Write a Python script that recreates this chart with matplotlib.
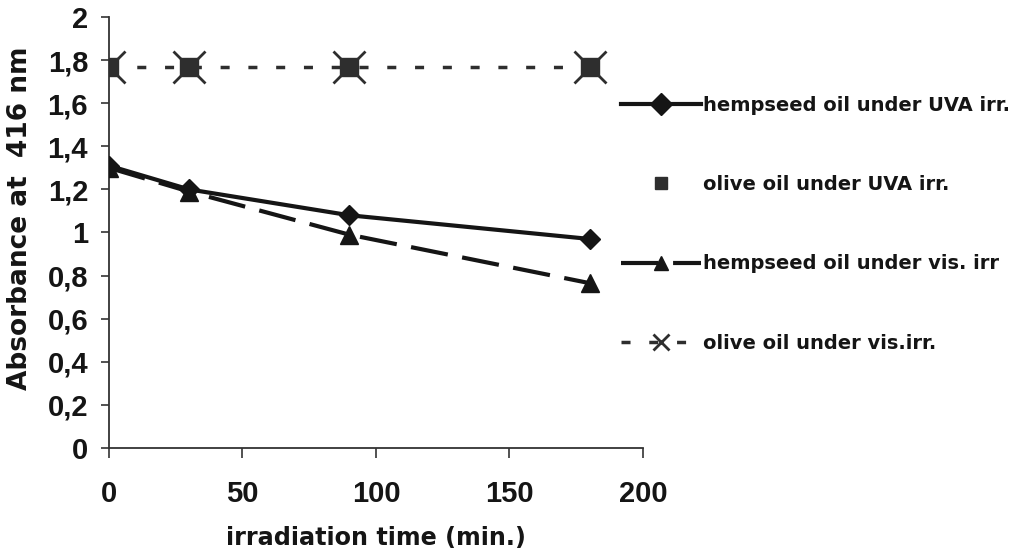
import matplotlib

matplotlib.use("Agg")

import matplotlib.pyplot as plt
from matplotlib.ticker import FuncFormatter

plt.rcParams["font.family"] = ["Liberation Sans", "DejaVu Sans"]
plt.rcParams["font.weight"] = "bold"

# irradiation time (min.)
TIME = [0, 30, 90, 180]

HEMP_UVA = [1.31, 1.20, 1.08, 0.97]
OLIVE_UVA = [1.77, 1.77, 1.77, 1.77]
HEMP_VIS = [1.30, 1.19, 0.99, 0.765]
OLIVE_VIS = [1.77, 1.77, 1.77, 1.77]

LABELS = [
    "hempseed oil under UVA irr.",
    "olive oil under UVA irr.",
    "hempseed oil under vis. irr",
    "olive oil under vis.irr.",
]

X_TICKS = [0, 50, 100, 150, 200]
Y_TICKS = [0, 0.2, 0.4, 0.6, 0.8, 1.0, 1.2, 1.4, 1.6, 1.8, 2.0]

INK = "#151515"
DARK = "#2e2e2e"
WIDE = ["DejaVu Sans"]

fig = plt.figure(figsize=(10.18, 5.57), dpi=100, facecolor="white")
ax = fig.add_axes([0.107, 0.1957, 0.5246, 0.7738])

l1, = ax.plot(TIME, HEMP_UVA, color=INK, lw=3.0, marker="D", ms=10,
              mfc=INK, mec=INK, zorder=4, label=LABELS[0])
l3, = ax.plot(TIME, HEMP_VIS, color=INK, lw=3.0, dashes=(9, 3.5),
              marker="^", ms=13, mfc=INK, mec=INK, zorder=3, label=LABELS[2])
l4, = ax.plot(TIME, OLIVE_VIS, color=DARK, lw=2.5, dashes=(2.6, 5.4),
              marker="x", ms=23, mew=2.0, mec=DARK, zorder=3, label=LABELS[3])
l2, = ax.plot(TIME, OLIVE_UVA, ls="none", marker="s", ms=13,
              mfc=DARK, mec=DARK, zorder=5, label=LABELS[1])

ax.set_xlim(0, 200)
ax.set_ylim(0, 2)
ax.set_xticks(X_TICKS)
ax.set_yticks(Y_TICKS)
ax.yaxis.set_major_formatter(
    FuncFormatter(lambda v, p: f"{v:g}".replace(".", ","))
)

for side in ("top", "right"):
    ax.spines[side].set_visible(False)
for side in ("left", "bottom"):
    ax.spines[side].set_color("#333333")
    ax.spines[side].set_linewidth(1.3)

ax.tick_params(axis="y", direction="out", length=6, width=1.2, pad=9,
               labelsize=21, colors="#333333", labelcolor=INK)
ax.tick_params(axis="x", direction="out", length=7, width=1.2, pad=16,
               labelsize=21, colors="#333333", labelcolor=INK)
for t in ax.get_xticklabels() + ax.get_yticklabels():
    t.set_fontweight("bold")

ax.set_xlabel("irradiation time (min.)", fontsize=17.2, fontweight="bold",
              color=INK, family=WIDE)
ax.xaxis.set_label_coords(0.5, -0.209)
ax.xaxis.label.set_va("center")
ax.set_ylabel("Absorbance at  416 nm", fontsize=19, fontweight="bold",
              color=INK, family=WIDE)
ax.yaxis.set_label_coords(-0.1667, 0.534)
ax.yaxis.label.set_va("center")

leg = ax.legend(
    handles=[l1, l2, l3, l4],
    loc="upper left",
    bbox_to_anchor=(0.944, 0.835),
    frameon=False,
    prop={"family": WIDE, "size": 14, "weight": "bold"},
    handlelength=4.1,
    handletextpad=0.15,
    labelspacing=3.1,
    borderaxespad=0,
)
for txt in leg.get_texts():
    txt.set_color(INK)
for h, size in zip(leg.legend_handles, [11, 9, 10, 12]):
    h.set_markersize(size)

fig.savefig("out.png", dpi=100, facecolor="white")
